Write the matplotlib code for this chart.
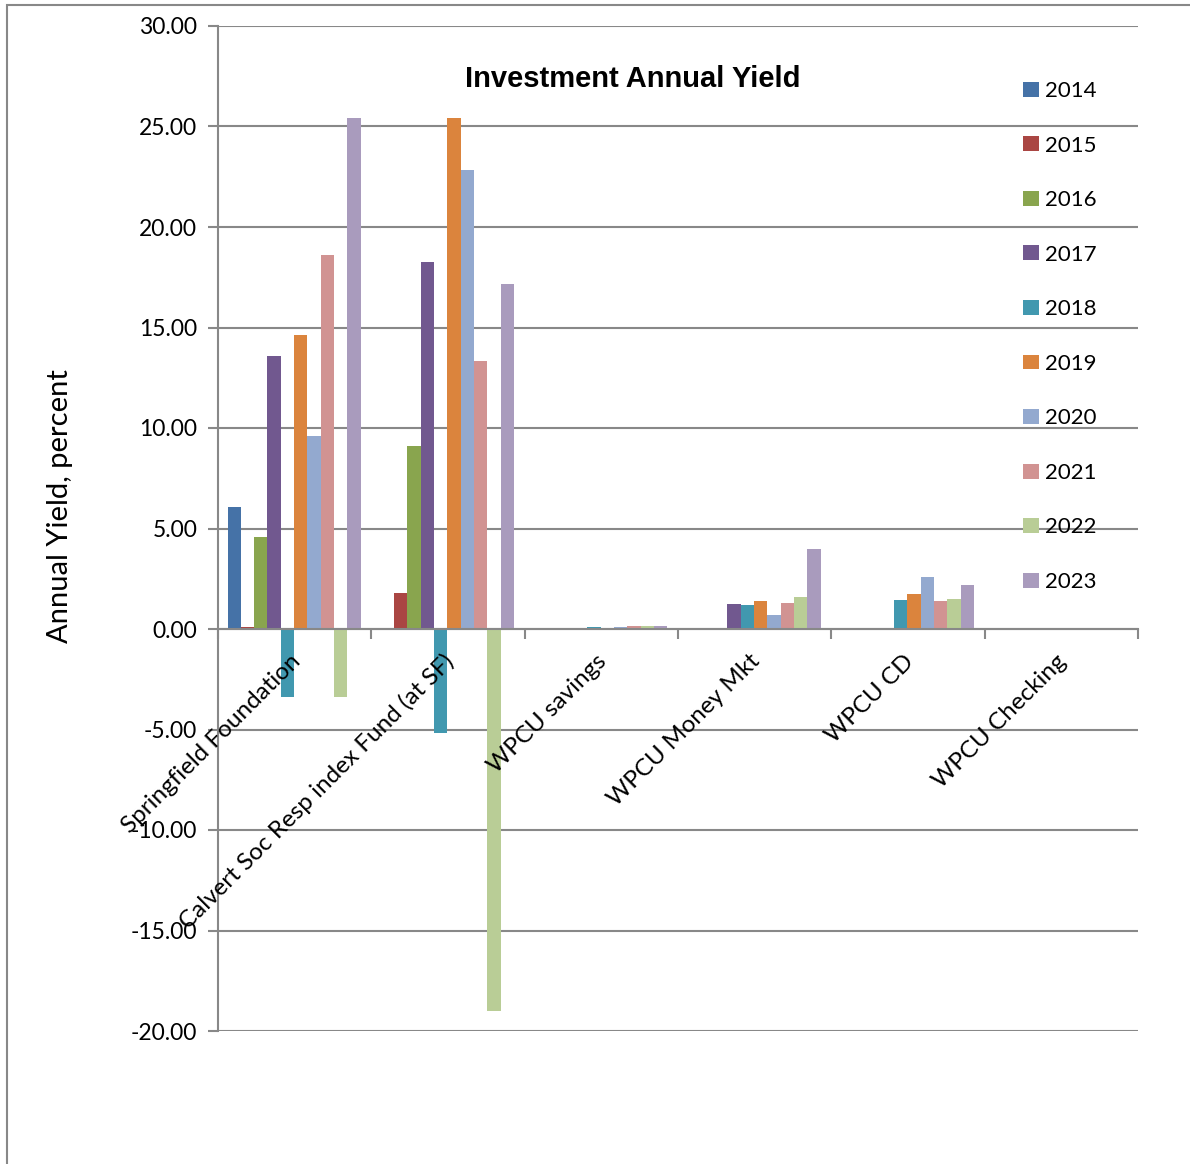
import numpy as np
import matplotlib
matplotlib.use('Agg')
import matplotlib.pyplot as plt
from matplotlib.patches import Patch, Rectangle
from matplotlib.transforms import offset_copy

# chart values
categories = ['Springfield Foundation', 'Calvert Soc Resp index Fund (at SF)',
              'WPCU savings', 'WPCU Money Mkt', 'WPCU CD', 'WPCU Checking']
years = ['2014', '2015', '2016', '2017', '2018', '2019', '2020', '2021', '2022', '2023']

springfield = [6.07, 0.10, 4.58, 13.60, -3.37, 14.64, 9.60, 18.60, -3.38, 25.44]
calvert = [0.00, 1.80, 9.12, 18.26, -5.17, 25.44, 22.84, 13.32, -18.99, 17.18]
wpcu_savings = [0.05, 0.00, 0.00, 0.00, 0.12, 0.00, 0.08, 0.15, 0.15, 0.15]
wpcu_money = [0.00, 0.00, 0.00, 1.25, 1.20, 1.40, 0.68, 1.30, 1.58, 4.00]
wpcu_cd = [0.00, 0.00, 0.00, 0.00, 1.46, 1.76, 2.60, 1.40, 1.50, 2.20]
wpcu_checking = [0.00] * 10

colors = ['#4572A7', '#AA4643', '#89A54E', '#71588F', '#4198AF',
          '#DB843D', '#93A9CF', '#D19392', '#B9CD96', '#A99BBD']

yticks = [30, 25, 20, 15, 10, 5, 0, -5, -10, -15, -20]

W, H = 1190, 1164
GRAY = '#888888'

plt.rcParams['font.family'] = ['Lato', 'DejaVu Sans']

fig = plt.figure(figsize=(W / 100, H / 100), dpi=100)
ax = fig.add_axes([218 / W, 1 - 1031 / H, (1138 - 218) / W, (1031 - 26) / H])

table = np.array([springfield, calvert, wpcu_savings, wpcu_money, wpcu_cd, wpcu_checking])
x = np.arange(len(categories))
bw = 0.0868
for i, yr in enumerate(years):
    off = (i - 4.5) * bw - 0.004
    ax.bar(x + off, table[:, i], width=bw, color=colors[i], linewidth=0, zorder=3)

ax.set_xlim(-0.5, len(categories) - 0.5)
ax.set_ylim(-20, 30)
ax.set_yticks(yticks)
ax.set_yticklabels(['%.2f' % v for v in yticks], fontsize=16.5)
ax.yaxis.grid(True, color=GRAY, linewidth=1.5, zorder=0)
ax.set_axisbelow(True)

for s in ['top', 'right']:
    ax.spines[s].set_visible(False)
ax.spines['left'].set_color(GRAY)
ax.spines['left'].set_linewidth(1.5)
ax.spines['bottom'].set_position(('data', 0))
ax.spines['bottom'].set_color(GRAY)
ax.spines['bottom'].set_linewidth(1.5)
ax.spines['bottom'].set_zorder(4)

ax.tick_params(axis='y', direction='out', length=7, width=1.5, color=GRAY, pad=8)
ax.set_xticks(np.arange(len(categories) + 1) - 0.5)
ax.set_xticklabels([])
ax.tick_params(axis='x', direction='out', length=7, width=1.5, color=GRAY)

# category names sit on top of the bars, like in the spreadsheet chart
lab_tr = offset_copy(ax.transData, fig=fig, x=2, y=-29, units='dots')
for xi, name in zip(x, categories):
    ax.text(xi, 0, name, transform=lab_tr, rotation=45, ha='right', va='center',
            rotation_mode='anchor', fontsize=17.5, zorder=6, clip_on=False)

fig.text(633 / W, 1 - 79 / H, 'Investment Annual Yield', ha='center', va='center',
         fontsize=21, fontweight='bold', family='Liberation Sans')
fig.text(60 / W, 1 - 506 / H, 'Annual Yield, percent', ha='center', va='center',
         rotation=90, fontsize=21)

handles = [Patch(facecolor=c, edgecolor='none') for c in colors]
fig.legend(handles, years, loc='upper left', bbox_to_anchor=(1023 / W, 1 - 81 / H),
           frameon=False, fontsize=16, handlelength=0.7, handleheight=0.65,
           handletextpad=0.28, labelspacing=1.555, borderpad=0, borderaxespad=0)

# outer chart frame (right and bottom edges fall outside the picture)
fig.patches.append(Rectangle((7 / W, -0.1), 1.2, 1 - 5 / H + 0.1, transform=fig.transFigure,
                             fill=False, edgecolor=GRAY, linewidth=1.5))

fig.savefig('out.png', dpi=100)
